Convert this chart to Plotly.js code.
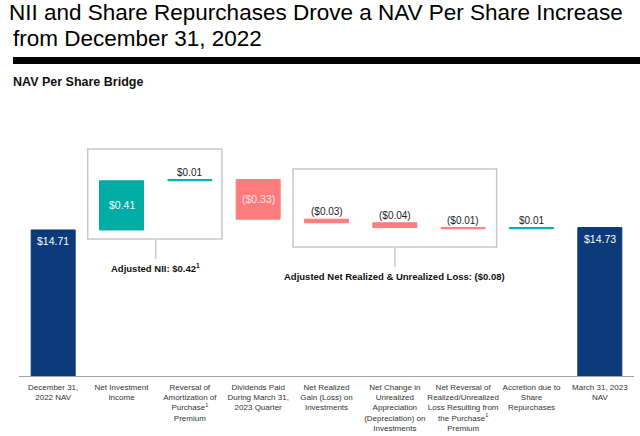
<!DOCTYPE html>
<html>
<head>
<meta charset="utf-8">
<script src="https://cdn.plot.ly/plotly-3.0.1.min.js"></script>
<style>html,body{margin:0;padding:0;background:#fff;}#chart{width:640px;height:436px;}</style>
</head>
<body>
<div id="chart"></div>
<script>
// ---- data ----
const categories = [
  "December 31,<br>2022 NAV",
  "Net Investment<br>Income",
  "Reversal of<br>Amortization of<br>Purchase<sup>1</sup><br>Premium",
  "Dividends Paid<br>During March 31,<br>2023 Quarter",
  "Net Realized<br>Gain (Loss) on<br>Investments",
  "Net Change in<br>Unrealized<br>Appreciation<br>(Depreciation) on<br>Investments",
  "Net Reversal of<br>Realized/Unrealized<br>Loss Resulting from<br>the Purchase<sup>1</sup><br>Premium",
  "Accretion due to<br>Share<br>Repurchases",
  "March 31, 2023<br>NAV"
];
const measures = ["absolute","relative","relative","relative","relative","relative","relative","relative","total"];
const values = [14.71, 0.41, 0.01, -0.33, -0.03, -0.04, -0.01, 0.01, 0];
const niiGroup = [1, 2];          // Adjusted NII components
const lossGroup = [4, 5, 6];      // Adjusted net realized & unrealized loss components
const titleLines = ["NII and Share Repurchases Drove a NAV Per Share Increase", "from December 31, 2022"];
const subtitle = "NAV Per Share Bridge";

// ---- styles ----
const NAVY = "#0C3A7A", TEAL = "#00ADA4", SALMON = "#FF7C7E";
const FONT = "Liberation Sans, Arial, sans-serif";

const idx = categories.map((_, i) => i);

// cumulative levels
const tops = [], bottoms = [];
let run = 0;
values.forEach((v, i) => {
  if (measures[i] === "absolute") { bottoms.push(0); run = v; tops.push(v); }
  else if (measures[i] === "total") { bottoms.push(0); tops.push(run); }
  else { const b = run; run += v; bottoms.push(Math.min(b, run)); tops.push(Math.max(b, run)); }
});
const fmt = v => (v < 0 ? "($" + Math.abs(v).toFixed(2) + ")" : "$" + v.toFixed(2));

const annotations = [];
values.forEach((v, i) => {
  if (measures[i] !== "relative") {
    annotations.push({x: i, y: tops[i], xref: "x", yref: "y", text: fmt(tops[i]), showarrow: false,
      yanchor: "middle", yshift: -11, font: {family: FONT, size: 10.5, color: "#ffffff"}});
  } else if (Math.abs(v) > 0.2) {
    annotations.push({x: i, y: (tops[i] + bottoms[i]) / 2, xref: "x", yref: "y", text: fmt(v), showarrow: false,
      yanchor: "middle", font: {family: FONT, size: 10.5, color: v < 0 ? "#FDE3E3" : "#ffffff"}});
  } else {
    annotations.push({x: i, y: tops[i], xref: "x", yref: "y", text: fmt(v), showarrow: false,
      yanchor: "bottom", yshift: 0, font: {family: FONT, size: 10, color: "#222222"}});
  }
});

const niiTotal = niiGroup.reduce((s, i) => s + values[i], 0);
const lossTotal = lossGroup.reduce((s, i) => s + values[i], 0);
const g1c = (niiGroup[0] + niiGroup[niiGroup.length-1]) / 2;
const g2c = (lossGroup[0] + lossGroup[lossGroup.length-1]) / 2;

annotations.push({x: g1c, y: 0.3913, xref: "x", yref: "paper",
  text: "<b>Adjusted NII: " + fmt(niiTotal) + "<sup>1</sup></b>", showarrow: false,
  font: {family: FONT, size: 9.5, color: "#111"}});
annotations.push({x: g2c, y: 0.3587, xref: "x", yref: "paper",
  text: "<b>Adjusted Net Realized & Unrealized Loss: " + fmt(lossTotal) + "</b>", showarrow: false,
  font: {family: FONT, size: 9.5, color: "#111"}});
annotations.push({x: -0.0130, y: 1.065, xref: "paper", yref: "paper", xanchor: "left", yanchor: "middle",
  text: "<b>" + subtitle + "</b>", showarrow: false, font: {family: FONT, size: 12.5, color: "#111"}});
annotations.push({x: -0.0130, y: 1.2221, xref: "paper", yref: "paper", xanchor: "left", yanchor: "middle",
  text: titleLines[1], showarrow: false, font: {family: FONT, size: 22.5, color: "#000"}});

const boxLine = {color: "#C9C9C9", width: 1.5};
const shapes = [
  {type: "rect", xref: "x", yref: "paper", x0: niiGroup[0] - 0.495, x1: niiGroup[niiGroup.length-1] + 0.47, y0: 0.4964, y1: 0.8225, line: boxLine},
  {type: "line", xref: "x", yref: "paper", x0: g1c, x1: g1c, y0: 0.4239, y1: 0.4964, line: boxLine},
  {type: "rect", xref: "x", yref: "paper", x0: lossGroup[0] - 0.49, x1: lossGroup[lossGroup.length-1] + 0.49, y0: 0.4674, y1: 0.75, line: boxLine},
  {type: "line", xref: "x", yref: "paper", x0: g2c, x1: g2c, y0: 0.3949, y1: 0.4674, line: boxLine},
  {type: "rect", xref: "paper", yref: "paper", x0: -0.00976, x1: 1.02, y0: 1.1304, y1: 1.1558, line: {width: 0}, fillcolor: "#000"}
];

const trace = {
  type: "waterfall",
  x: idx,
  y: values,
  measure: measures,
  textposition: "none",
  connector: {visible: false},
  increasing: {marker: {color: TEAL, line: {color: TEAL, width: 1}}},
  decreasing: {marker: {color: SALMON, line: {color: SALMON, width: 1}}},
  totals: {marker: {color: NAVY, line: {color: NAVY, width: 1}}},
  hoverinfo: "none"
};

const layout = {
  width: 640, height: 436,
  margin: {l: 19, r: 6, t: 100, b: 60},
  paper_bgcolor: "#fff", plot_bgcolor: "#fff",
  showlegend: false,
  waterfallgap: 0.356,
  title: {text: titleLines[0],
    x: 9/640, xanchor: "left", xref: "container", y: 0.972, yanchor: "middle", yref: "container",
    font: {family: FONT, size: 22.5, color: "#000"}},
  xaxis: {type: "linear", range: [-0.5, 8.5], tickvals: idx, ticktext: categories, tickangle: 0,
    showgrid: false, zeroline: false, showline: true, linecolor: "#A0A0A0", linewidth: 1,
    ticks: "", ticklabelstandoff: 3, tickfont: {family: FONT, size: 8, color: "#333"}, fixedrange: true},
  yaxis: {range: [13.493, 15.793], visible: false, fixedrange: true},
  annotations: annotations,
  shapes: shapes
};

Plotly.newPlot("chart", [trace], layout, {displayModeBar: false, staticPlot: true});
</script>
</body>
</html>
